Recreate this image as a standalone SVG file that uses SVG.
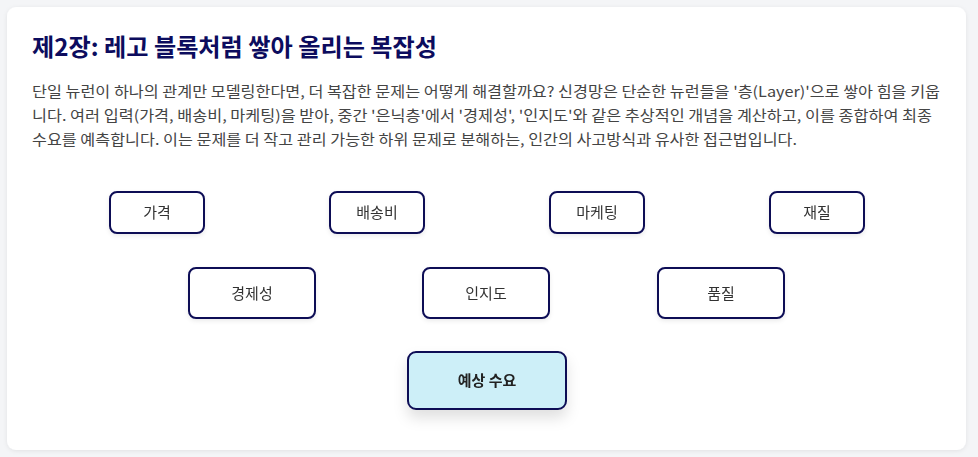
<svg xmlns="http://www.w3.org/2000/svg" width="978" height="457" viewBox="0 0 978 457">
<defs>
<style>
.t{font-family:"Noto Sans CJK KR","Noto Sans",sans-serif;}
.title{font-size:24px;font-weight:700;fill:#0c0c5e;}
.body{font-size:14.5px;fill:#444;}
.box{fill:#fff;stroke:#0b0b55;stroke-width:2;}
.lbl{font-size:15px;fill:#333;text-anchor:middle;}
.out{fill:#cdeff8;stroke:#0b0b55;stroke-width:2;}
.olbl{font-size:15px;font-weight:700;fill:#222;text-anchor:middle;}
</style>
<filter id="sh" x="-20%" y="-20%" width="140%" height="160%">
<feDropShadow dx="0" dy="2" stdDeviation="2" flood-color="#000" flood-opacity="0.08"/>
</filter>
<filter id="sh2" x="-30%" y="-30%" width="160%" height="190%">
<feDropShadow dx="0" dy="8" stdDeviation="7" flood-color="#000" flood-opacity="0.12"/>
</filter>
<filter id="cs" x="-5%" y="-5%" width="110%" height="110%">
<feDropShadow dx="0" dy="1" stdDeviation="2" flood-color="#000" flood-opacity="0.08"/>
</filter>
</defs>
<rect width="978" height="457" fill="#f4f5f7"/>
<rect x="7" y="7" width="959" height="443" rx="9" fill="#fff" filter="url(#cs)"/>
<text class="t title" x="32" y="56" textLength="405" lengthAdjust="spacingAndGlyphs">제2장: 레고 블록처럼 쌓아 올리는 복잡성</text>
<text class="t body" x="32" y="97" textLength="908" lengthAdjust="spacingAndGlyphs">단일 뉴런이 하나의 관계만 모델링한다면, 더 복잡한 문제는 어떻게 해결할까요? 신경망은 단순한 뉴런들을 '층(Layer)'으로 쌓아 힘을 키웁</text>
<text class="t body" x="32" y="121" textLength="900" lengthAdjust="spacingAndGlyphs">니다. 여러 입력(가격, 배송비, 마케팅)을 받아, 중간 '은닉층'에서 '경제성', '인지도'와 같은 추상적인 개념을 계산하고, 이를 종합하여 최종</text>
<text class="t body" x="32" y="145" textLength="765" lengthAdjust="spacingAndGlyphs">수요를 예측합니다. 이는 문제를 더 작고 관리 가능한 하위 문제로 분해하는, 인간의 사고방식과 유사한 접근법입니다.</text>
<g id="connectors"></g>
<g id="n-price" filter="url(#sh)"><rect class="box" x="110" y="192" width="94" height="41" rx="7"/><text class="t lbl" x="157" y="218">가격</text></g>
<g id="n-ship" filter="url(#sh)"><rect class="box" x="330" y="192" width="94" height="41" rx="7"/><text class="t lbl" x="377" y="218">배송비</text></g>
<g id="n-mkt" filter="url(#sh)"><rect class="box" x="550" y="192" width="94" height="41" rx="7"/><text class="t lbl" x="597" y="218">마케팅</text></g>
<g id="n-mat" filter="url(#sh)"><rect class="box" x="770" y="192" width="94" height="41" rx="7"/><text class="t lbl" x="817" y="218">재질</text></g>
<g id="n-econ" filter="url(#sh)"><rect class="box" x="189" y="268" width="126" height="50" rx="7"/><text class="t lbl" x="252" y="298.5">경제성</text></g>
<g id="n-aware" filter="url(#sh)"><rect class="box" x="423" y="268" width="126" height="50" rx="7"/><text class="t lbl" x="486" y="298.5">인지도</text></g>
<g id="n-qual" filter="url(#sh)"><rect class="box" x="658" y="268" width="126" height="50" rx="7"/><text class="t lbl" x="721" y="298.5">품질</text></g>
<g id="n-demand" filter="url(#sh2)"><rect class="out" x="408" y="352" width="158" height="57" rx="8"/><text class="t olbl" x="487" y="386">예상 수요</text></g>
</svg>
